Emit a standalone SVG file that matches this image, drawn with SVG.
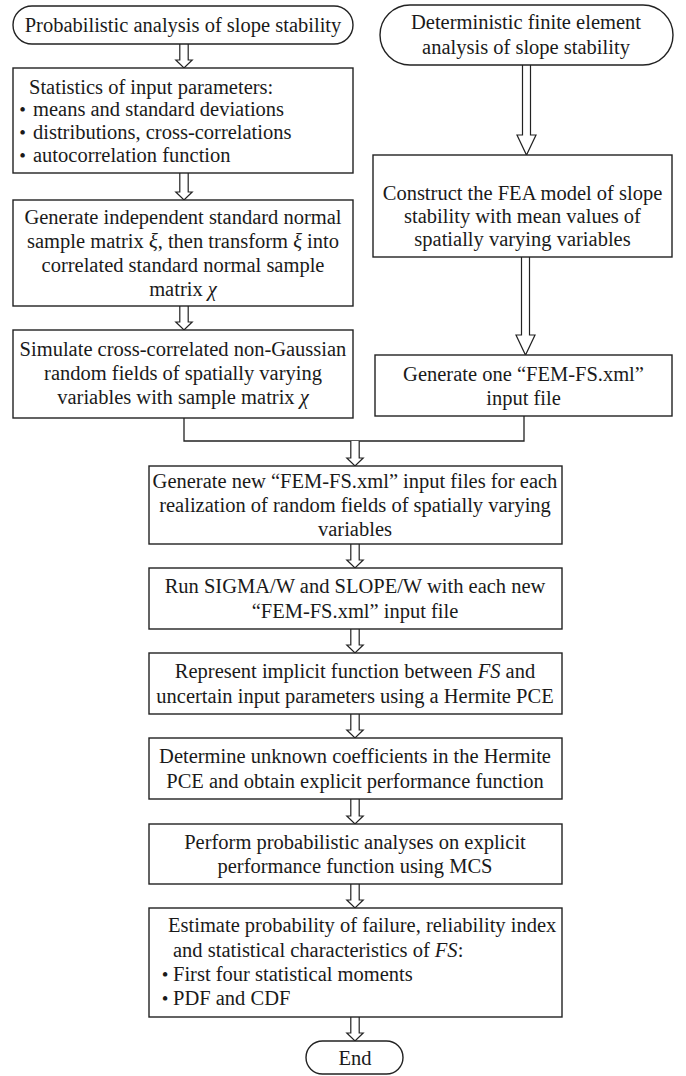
<svg xmlns="http://www.w3.org/2000/svg" width="686" height="1076" viewBox="0 0 686 1076">
<style>
.b{fill:#fff;stroke:#222;stroke-width:1.4}
.a{fill:#fff;stroke:#222;stroke-width:1.2}
.l{fill:none;stroke:#222;stroke-width:1.3}
text{font-family:"Liberation Serif","Times New Roman",serif;font-size:20.5px;fill:#1a1a1a}
.c{text-anchor:middle}
.i{font-style:italic}
.d{font-size:19px;text-anchor:middle}
</style>
<rect width="686" height="1076" fill="#fff"/>
<g id="connectors">
<path class="a" d="M179.8,44 V60 H175.8 L184,68 L192.2,60 H188.2 V44"/>
<path class="a" d="M179.8,173 V192 H175.8 L184,200 L192.2,192 H188.2 V173"/>
<path class="a" d="M179.8,306 V322 H175.8 L184,330 L192.2,322 H188.2 V306"/>
<path class="a" d="M522.5,65 V135 H517 L526.5,155 L536,135 H530.5 V65"/>
<path class="a" d="M521.5,257 V335 H516 L525.5,355 L535,335 H529.5 V257"/>
<polyline class="l" points="184,418 184,441 524,441 524,416"/>
<path class="a" d="M350.8,441 V458 H346.8 L355,466 L363.2,458 H359.2 V441"/>
<path class="a" d="M350.8,544 V560 H346.8 L355,568 L363.2,560 H359.2 V544"/>
<path class="a" d="M350.8,629 V645 H346.8 L355,653 L363.2,645 H359.2 V629"/>
<path class="a" d="M350.8,714 V730 H346.8 L355,738 L363.2,730 H359.2 V714"/>
<path class="a" d="M350.8,799 V816 H346.8 L355,824 L363.2,816 H359.2 V799"/>
<path class="a" d="M350.8,884 V900 H346.8 L355,908 L363.2,900 H359.2 V884"/>
<path class="a" d="M350.8,1017 V1033 H346.8 L355,1041 L363.2,1033 H359.2 V1017"/>
</g>
<g id="start-prob">
<rect class="b" x="13" y="6" width="340" height="38" rx="19"/>
<text class="c" x="183" y="32">Probabilistic analysis of slope stability</text>
</g>
<g id="start-det">
<rect class="b" x="380" y="5" width="293" height="60" rx="30"/>
<text class="c" x="526" y="29">Deterministic finite element</text>
<text class="c" x="526" y="54">analysis of slope stability</text>
</g>
<g id="stats">
<rect class="b" x="13" y="68" width="340" height="105"/>
<text x="29" y="94">Statistics of input parameters:</text>
<text class="d" x="22.5" y="116">•</text><text x="33" y="116">means and standard deviations</text>
<text class="d" x="22.5" y="139">•</text><text x="33" y="139">distributions, cross-correlations</text>
<text class="d" x="22.5" y="162">•</text><text x="33" y="162">autocorrelation function</text>
</g>
<g id="generate-matrix">
<rect class="b" x="13" y="200" width="340" height="106"/>
<text class="c" x="183" y="224">Generate independent standard normal</text>
<text class="c" x="183" y="248">sample matrix <tspan class="i">ξ</tspan>, then transform <tspan class="i">ξ</tspan> into</text>
<text class="c" x="183" y="272">correlated standard normal sample</text>
<text class="c" x="183" y="296">matrix <tspan class="i">χ</tspan></text>
</g>
<g id="simulate">
<rect class="b" x="13" y="330" width="340" height="88"/>
<text class="c" x="183" y="356">Simulate cross-correlated non-Gaussian</text>
<text class="c" x="183" y="380">random fields of spatially varying</text>
<text class="c" x="183" y="404">variables with sample matrix <tspan class="i">χ</tspan></text>
</g>
<g id="construct">
<rect class="b" x="373" y="155" width="299" height="102"/>
<text class="c" x="522.5" y="200">Construct the FEA model of slope</text>
<text class="c" x="522.5" y="223">stability with mean values of</text>
<text class="c" x="522.5" y="246">spatially varying variables</text>
</g>
<g id="generate-one">
<rect class="b" x="375" y="355" width="297" height="61"/>
<text class="c" x="523.5" y="381">Generate one “FEM-FS.xml”</text>
<text class="c" x="523.5" y="405">input file</text>
</g>
<g id="generate-new">
<rect class="b" x="149" y="466" width="413" height="78"/>
<text class="c" x="355" y="488">Generate new “FEM-FS.xml” input files for each</text>
<text class="c" x="355" y="512">realization of random fields of spatially varying</text>
<text class="c" x="355" y="536">variables</text>
</g>
<g id="run">
<rect class="b" x="149" y="568" width="413" height="61"/>
<text class="c" x="355" y="593">Run SIGMA/W and SLOPE/W with each new</text>
<text class="c" x="355" y="618">“FEM-FS.xml” input file</text>
</g>
<g id="represent">
<rect class="b" x="149" y="653" width="413" height="61"/>
<text class="c" x="355" y="678">Represent implicit function between <tspan class="i">FS</tspan> and</text>
<text class="c" x="355" y="703">uncertain input parameters using a Hermite PCE</text>
</g>
<g id="determine">
<rect class="b" x="149" y="738" width="413" height="61"/>
<text class="c" x="355" y="763">Determine unknown coefficients in the Hermite</text>
<text class="c" x="355" y="788">PCE and obtain explicit performance function</text>
</g>
<g id="perform">
<rect class="b" x="149" y="824" width="413" height="60"/>
<text class="c" x="355" y="849">Perform probabilistic analyses on explicit</text>
<text class="c" x="355" y="873">performance function using MCS</text>
</g>
<g id="estimate">
<rect class="b" x="149" y="908" width="413" height="109"/>
<text x="168" y="932">Estimate probability of failure, reliability index</text>
<text x="173" y="957">and statistical characteristics of <tspan class="i">FS</tspan>:</text>
<text class="d" x="165" y="981">•</text><text x="173" y="981">First four statistical moments</text>
<text class="d" x="165" y="1005">•</text><text x="173" y="1005">PDF and CDF</text>
</g>
<g id="end">
<rect class="b" x="306" y="1041" width="97" height="33" rx="16.5"/>
<text class="c" x="355" y="1065">End</text>
</g>
</svg>
